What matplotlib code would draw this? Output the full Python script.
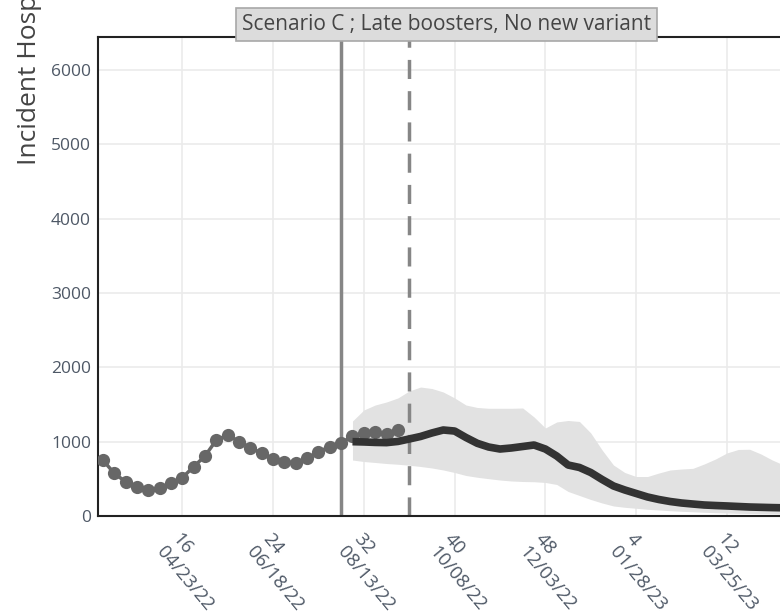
import matplotlib.pyplot as plt
import numpy as np

plt.rcParams['font.family'] = ['Open Sans', 'DejaVu Sans']

# Epi weeks (continuous count, week 53 = week 1 of 2023)
obs_weeks = list(range(9, 36))
obs_values = [753, 574, 461, 394, 350, 373, 440, 515, 663, 807, 1022, 1090,
              1000, 919, 844, 763, 731, 717, 776, 865, 932, 978, 1076, 1113,
              1134, 1099, 1157]

proj_weeks = list(range(31, 70))
proj_median = [1000, 996, 990, 987, 1003, 1036, 1070, 1117, 1157, 1143, 1056,
               978, 928, 901, 915, 935, 955, 901, 807, 686, 653, 585, 491, 404,
               350, 303, 256, 222, 195, 175, 161, 148, 141, 135, 128, 121, 117,
               113, 110]
proj_upper = [1278, 1426, 1493, 1534, 1588, 1682, 1735, 1715, 1668, 1588, 1493,
              1460, 1449, 1449, 1449, 1453, 1332, 1184, 1265, 1285, 1272, 1117,
              888, 686, 585, 531, 531, 578, 619, 632, 641, 700, 767, 848, 895,
              898, 834, 753, 686]
proj_lower = [753, 733, 720, 706, 696, 683, 666, 646, 619, 585, 545, 521, 502,
              484, 471, 464, 461, 451, 424, 330, 276, 222, 175, 135, 117, 104,
              90, 81, 71, 63, 57, 50, 44, 40, 36, 34, 31, 30, 27]

tick_weeks = [16, 24, 32, 40, 48, 56, 64]
tick_labels = ['16\n04/23/22', '24\n06/18/22', '32\n08/13/22', '40\n10/08/22',
               '48\n12/03/22', '4\n01/28/23', '12\n03/25/23']
y_ticks = [0, 1000, 2000, 3000, 4000, 5000, 6000]

last_data_week = 30
projection_start_week = 36

W, H = 780, 613
fig = plt.figure(figsize=(W / 100, H / 100), dpi=100)
ax = fig.add_axes([98 / W, (H - 516) / H, (795 - 98) / W, (516 - 37) / H])

ax.fill_between(proj_weeks, proj_lower, proj_upper, color='#e2e2e2', lw=0, zorder=1)
ax.plot(proj_weeks, proj_median, color='#333333', lw=5.5, solid_capstyle='butt', zorder=4)
ax.plot(obs_weeks, obs_values, color='#676767', lw=2.5, marker='o', ms=9.5,
        markeredgewidth=0, zorder=3)

ax.axvline(last_data_week, color='#868686', lw=2.5, zorder=2)
ax.axvline(projection_start_week, color='#868686', lw=2.5, ls=(0, (5.5, 3.5)), zorder=2)

ax.set_xlim(8.57, 70)
ax.set_ylim(0, 6444)
ax.set_yticks(y_ticks)
ax.set_xticks(tick_weeks)
ax.set_xticklabels(tick_labels, rotation=-50, ha='left', va='top',
                   rotation_mode='anchor', multialignment='left', linespacing=1.2)
ax.grid(True, color='#ebebeb', lw=1.2, zorder=0)
ax.set_axisbelow(True)
ax.tick_params(axis='both', length=0, labelsize=12.5, labelcolor='#4e5866')
ax.tick_params(axis='x', pad=10, labelsize=13.5)
ax.tick_params(axis='y', pad=5)

for side in ['left', 'bottom', 'top']:
    ax.spines[side].set_color('#222222')
    ax.spines[side].set_linewidth(1.5)
ax.spines['right'].set_visible(False)

ax.text(0.5, 1.004, 'Scenario C ; Late boosters, No new variant', transform=ax.transAxes,
        ha='center', va='bottom', fontsize=15, color='#444444',
        bbox=dict(boxstyle='square,pad=0.3', facecolor='#dcdcdc', edgecolor='#a8a8a8', lw=1.2))

fig.text(30 / W, 1 - 165 / H, 'Incident Hospitalizations', rotation=90,
         ha='center', va='bottom', fontsize=19, color='#444444')

fig.savefig('out.png', dpi=100)
